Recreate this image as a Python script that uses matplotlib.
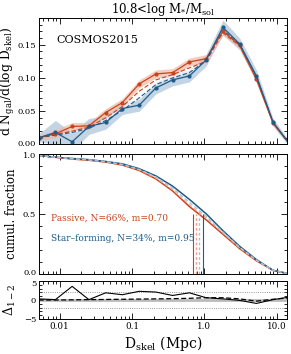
import numpy as np
import matplotlib
matplotlib.use("Agg")
import matplotlib.pyplot as plt
from matplotlib.transforms import ScaledTranslation
from matplotlib.ticker import FixedLocator, FixedFormatter, LogLocator, NullFormatter, AutoMinorLocator

plt.rcParams['font.family'] = ['DejaVu Serif']
plt.rcParams['mathtext.fontset'] = 'dejavuserif'

# ---- data ----
log_d = [-2.288, -2.057, -1.826, -1.594, -1.362, -1.131, -0.899, -0.668,
         -0.437, -0.205, 0.027, 0.258, 0.490, 0.721, 0.952, 1.184]
passive_pdf = [0.010, 0.016, 0.027, 0.028, 0.048, 0.063, 0.091, 0.106,
               0.108, 0.124, 0.129, 0.170, 0.149, 0.098, 0.032, 0.0]
sf_pdf = [0.010, 0.018, 0.004, 0.027, 0.033, 0.054, 0.059, 0.085,
          0.097, 0.103, 0.127, 0.176, 0.151, 0.103, 0.033, 0.0]
passive_err = [0.004, 0.006, 0.006, 0.005, 0.006, 0.006, 0.006, 0.006,
               0.006, 0.006, 0.006, 0.006, 0.005, 0.005, 0.004, 0.002]
sf_err = [0.006, 0.018, 0.014, 0.012, 0.010, 0.009, 0.009, 0.009,
          0.009, 0.009, 0.009, 0.011, 0.009, 0.009, 0.006, 0.004]
passive_pdf_dash = [0.010, 0.015, 0.020, 0.026, 0.040, 0.057, 0.080, 0.097,
                    0.105, 0.115, 0.125, 0.168, 0.148, 0.100, 0.033, 0.0]
sf_pdf_dash = [0.010, 0.014, 0.018, 0.024, 0.036, 0.051, 0.070, 0.090,
               0.100, 0.108, 0.126, 0.172, 0.150, 0.102, 0.033, 0.0]

passive_cum = [0.985, 0.97, 0.955, 0.945, 0.93, 0.905, 0.86, 0.79,
               0.69, 0.56, 0.45, 0.33, 0.21, 0.11, 0.03, 0.0]
sf_cum = [0.985, 0.97, 0.96, 0.95, 0.935, 0.915, 0.875, 0.815,
          0.73, 0.62, 0.50, 0.36, 0.23, 0.12, 0.03, 0.0]
passive_cum_dash = [0.985, 0.97, 0.957, 0.947, 0.932, 0.908, 0.865, 0.797,
                    0.70, 0.575, 0.465, 0.34, 0.215, 0.113, 0.03, 0.0]
sf_cum_dash = [0.985, 0.97, 0.958, 0.948, 0.933, 0.911, 0.87, 0.807,
               0.715, 0.595, 0.48, 0.35, 0.222, 0.116, 0.03, 0.0]

medians = [0.70, 0.95]
medians_dash = [0.77, 0.86]

delta = [0.3, 0.1, 3.6, 0.1, 1.9, 1.4, 2.3, 2.1, 1.2, 1.9, 0.6, 0.3, -0.1, -0.9, 0.1, 0.8]
delta_dash = [0.0, 0.0, 0.05, 0.1, 0.15, 0.2, 0.25, 0.3, 0.35, 0.45, 0.6, 0.6, 0.3, -0.3, 0.2, 0.6]

xticks = [0.01, 0.1, 1.0, 10.0]
xticklabels = ["0.01", "0.1", "1.0", "10.0"]

RED = "#c8431c"
BLUE = "#1f5b88"
RED_BAND = "#f2b8a3"
BLUE_BAND = "#b9cde0"

x = 10 ** np.array(log_d)

fig = plt.figure(figsize=(2.91, 3.54), dpi=100)
L, W = 0.134, 0.852
ax1 = fig.add_axes([L, 0.592, W, 0.357])
ax2 = fig.add_axes([L, 0.226, W, 0.340])
ax3 = fig.add_axes([L, 0.099, W, 0.107])

for ax in (ax1, ax2, ax3):
    ax.set_xscale('log')
    ax.set_xlim(0.0052, 13.9)
    ax.xaxis.set_major_locator(FixedLocator(xticks))
    ax.xaxis.set_minor_locator(LogLocator(base=10, subs=np.arange(2, 10)))
    ax.xaxis.set_minor_formatter(NullFormatter())
    ax.tick_params(which='both', direction='in', top=True, right=True, labelsize=6.0, width=0.6, pad=2)
    ax.tick_params(which='major', length=4)
    ax.tick_params(which='minor', length=2)
    ax.yaxis.set_minor_locator(AutoMinorLocator(5))
    for s in ax.spines.values():
        s.set_linewidth(0.7)
    if ax is ax3:
        ax.xaxis.set_major_formatter(FixedFormatter(xticklabels))
        ax.tick_params(axis='x', labelsize=6.3)
    else:
        ax.xaxis.set_major_formatter(NullFormatter())

# top panel
pe = np.array(passive_err); se = np.array(sf_err)
pp = np.array(passive_pdf); sp = np.array(sf_pdf)
ax1.fill_between(x, sp - se, sp + se, color=BLUE_BAND, lw=0, alpha=0.85)
ax1.fill_between(x, pp - pe, pp + pe, color=RED_BAND, lw=0, alpha=0.7)
ax1.fill_between(x, passive_pdf_dash, sf_pdf_dash, color="white", lw=0, alpha=0.6)
ax1.plot(x, passive_pdf_dash, color=RED, lw=0.8, ls=(0, (4, 2)))
ax1.plot(x, sf_pdf_dash, color=BLUE, lw=0.8, ls=(0, (4, 2)))
ax1.plot(x, passive_pdf, color=RED, lw=0.9, marker='o', ms=2)
ax1.plot(x, sf_pdf, color=BLUE, lw=0.9, marker='o', ms=2)
ax1.set_ylim(0, 0.19)
ax1.set_yticks([0.0, 0.05, 0.10, 0.15])
ax1.set_yticklabels(["0.00", "0.05", "0.10", "0.15"])
ax1.set_ylabel(r"d N$_{\rm gal}$/d(log D$_{\rm skel}$)", fontsize=8.8)
ax1.yaxis.set_label_coords(-0.09, 0.5)
ax1.set_title(r"10.8<log M$_{*}$/M$_{\rm sol}$", fontsize=8.5, pad=3)
ax1.text(0.07, 0.8, "COSMOS2015", transform=ax1.transAxes, fontsize=8)

# middle panel
ax2.plot(x, passive_cum, color=RED, lw=1.1)
ax2.plot(x, sf_cum, color=BLUE, lw=1.1)
ax2.plot(x, passive_cum_dash, color="#e9a48c", lw=0.9, ls=(0, (3, 2)))
ax2.plot(x, sf_cum_dash, color="#a9c1d6", lw=0.9, ls=(0, (3, 2)))
ax2.vlines(medians[0], 0, 0.5, color=RED, lw=0.8)
ax2.vlines(medians[1], 0, 0.5, color=BLUE, lw=0.8)
ax2.vlines(medians_dash[0], 0, 0.5, color="#e9a48c", lw=1.0, ls=(0, (2, 1.5)))
ax2.vlines(medians_dash[1], 0, 0.5, color="#a9c1d6", lw=1.0, ls=(0, (2, 1.5)))
ax2.set_ylim(0, 1.0)
ax2.set_yticks([0.0, 0.5, 1.0])
ax2.set_yticklabels(["0.0", "0.5", "1.0"])
ax2.set_ylabel("cumul. fraction", fontsize=8.5)
ax2.yaxis.set_label_coords(-0.085, 0.5)
ax2.text(0.05, 0.445, "Passive, N=66%, m=0.70", transform=ax2.transAxes, fontsize=6.5, color=RED)
ax2.text(0.05, 0.27, "Star\u2013forming, N=34%, m=0.95", transform=ax2.transAxes, fontsize=6.5, color=BLUE)

# bottom panel
ax3.axhline(0, color="#bbbbbb", lw=2)
ax3.axhline(2, color="#777777", lw=0.6, ls=':')
ax3.axhline(-2, color="#777777", lw=0.6, ls=':')
ax3.plot(x, delta_dash, color="black", lw=0.9, ls=(0, (4, 2)))
ax3.plot(x, delta, color="black", lw=0.8)
ax3.set_ylim(-5, 5)
ax3.set_yticks([-5, 0, 5])
ax3.set_yticklabels(["\u22125", "0", "5"])
ax3.set_ylabel(r"$\Delta_{1-2}$", fontsize=9)
ax3.yaxis.set_label_coords(-0.085, 0.5)
ax3.set_xlabel(r"D$_{\rm skel}$ (Mpc)", fontsize=10, labelpad=2)

# nudge the crowded tick labels at the panel joins
up = ScaledTranslation(0, 1.2 / 72, fig.dpi_scale_trans)
down = ScaledTranslation(0, -1.2 / 72, fig.dpi_scale_trans)
for ax in (ax2,):
    lab = ax.yaxis.get_majorticklabels()[0]
    lab.set_transform(lab.get_transform() + up)
for ax in (ax2, ax3):
    lab = ax.yaxis.get_majorticklabels()[-1]
    lab.set_transform(lab.get_transform() + down)
lab = ax1.yaxis.get_majorticklabels()[0]
lab.set_transform(lab.get_transform() + up)

fig.savefig("out.png", dpi=100)
